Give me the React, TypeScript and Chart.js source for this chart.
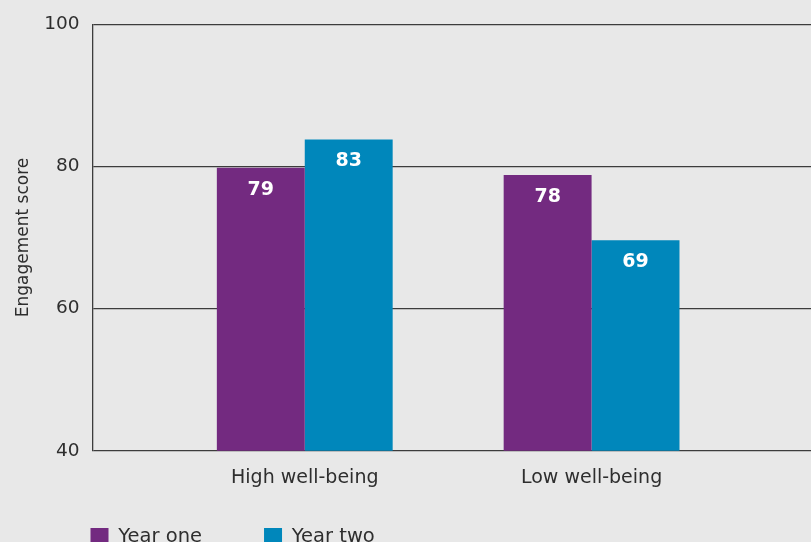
import { useEffect, useRef } from "react";
import { Chart, registerables } from "chart.js";

Chart.register(...registerables);

// ---- data ----
const categories = ["High well-being", "Low well-being"];
const seriesNames = ["Year one", "Year two"];
const yearOne = [79.8, 78.8];
const yearTwo = [83.8, 69.6];
const yearOneLabels = ["79", "78"];
const yearTwoLabels = ["83", "69"];
const yMin = 40;
const yMax = 100;
const yStep = 20;
const axisTitle = "Engagement score";

const FONT = "'DejaVu Sans', 'Liberation Sans', Arial, sans-serif";
const TEXT = "#2e2e2e";
const LINE = "#3c3c3c";
const PURPLE = "#732a80";
const BLUE = "#0087bb";

export default function App() {
  const ref = useRef<HTMLCanvasElement>(null);

  useEffect(() => {
    if (!ref.current) return;
    const valueLabels = [yearOneLabels, yearTwoLabels];

    const barLabelPlugin = {
      id: "barLabels",
      afterDatasetsDraw(chart: any) {
        const ctx = chart.ctx;
        ctx.save();
        ctx.fillStyle = "#ffffff";
        ctx.font = `bold 19px ${FONT}`;
        ctx.textAlign = "center";
        ctx.textBaseline = "middle";
        chart.data.datasets.forEach((_ds: any, di: number) => {
          chart.getDatasetMeta(di).data.forEach((bar: any, i: number) => {
            ctx.fillText(valueLabels[di][i], bar.x, bar.y + 22);
          });
        });
        ctx.restore();
      },
    };

    // place the legend row just under the axis labels, aligned with the plot's left edge
    const legendPlacePlugin = {
      id: "legendPlace",
      afterLayout(chart: any) {
        const lg = chart.legend;
        if (!lg) return;
        const pad = lg.options.labels.padding;
        const dx = chart.chartArea.left - 2 - (lg.left + pad);
        const dy = chart.chartArea.bottom + 76.5 - (lg.top + pad);
        lg.left += dx;
        lg.right += dx;
        lg.top += dy;
        lg.bottom += dy;
      },
    };

    const chart = new Chart(ref.current, {
      type: "bar",
      data: {
        datasets: [
          {
            label: seriesNames[0],
            data: categories.map((_, i) => ({ x: i, y: yearOne[i] })),
            backgroundColor: PURPLE,
            borderWidth: 0,
            categoryPercentage: 0.613,
            barPercentage: 1,
          },
          {
            label: seriesNames[1],
            data: categories.map((_, i) => ({ x: i, y: yearTwo[i] })),
            backgroundColor: BLUE,
            borderWidth: 0,
            categoryPercentage: 0.613,
            barPercentage: 1,
          },
        ],
      },
      options: {
        animation: false,
        responsive: true,
        maintainAspectRatio: false,
        layout: { padding: { top: 24.3, left: 0, right: 0, bottom: 0 } },
        scales: {
          x: {
            type: "linear",
            min: -0.74,
            max: 1.765,
            offset: false,
            grid: { display: false, drawTicks: false },
            border: { display: false },
            afterBuildTicks: (scale: any) => {
              scale.ticks = categories.map((_, i) => ({ value: i }));
            },
            ticks: {
              autoSkip: false,
              maxRotation: 0,
              padding: 16,
              color: TEXT,
              font: { family: FONT, size: 19 },
              callback: (v: any) => categories[v as number] ?? "",
            },
          },
          y: {
            min: yMin,
            max: yMax,
            grid: { color: LINE, lineWidth: 1.3, drawTicks: false },
            border: { display: true, color: LINE, width: 1.3 },
            ticks: {
              stepSize: yStep,
              padding: 13,
              color: TEXT,
              font: { family: FONT, size: 18.5 },
            },
            title: {
              display: true,
              text: axisTitle,
              color: TEXT,
              font: { family: FONT, size: 17 },
              padding: { top: 13.5, bottom: -2.7 },
            },
          },
        },
        plugins: {
          tooltip: { enabled: false },
          legend: {
            position: "bottom",
            align: "start",
            labels: {
              boxWidth: 18,
              boxHeight: 18,
              padding: 62,
              color: TEXT,
              font: { family: FONT, size: 19.5 },
            },
          },
        },
      },
      plugins: [barLabelPlugin, legendPlacePlugin],
    } as any);

    return () => chart.destroy();
  }, []);

  return (
    <div
      style={{
        position: "fixed",
        left: 0,
        top: 0,
        width: 811,
        height: 542,
        overflow: "hidden",
        background: "#e8e8e8",
      }}
    >
      <div style={{ position: "relative", width: 811, height: 597 }}>
        <canvas ref={ref} />
      </div>
    </div>
  );
}
